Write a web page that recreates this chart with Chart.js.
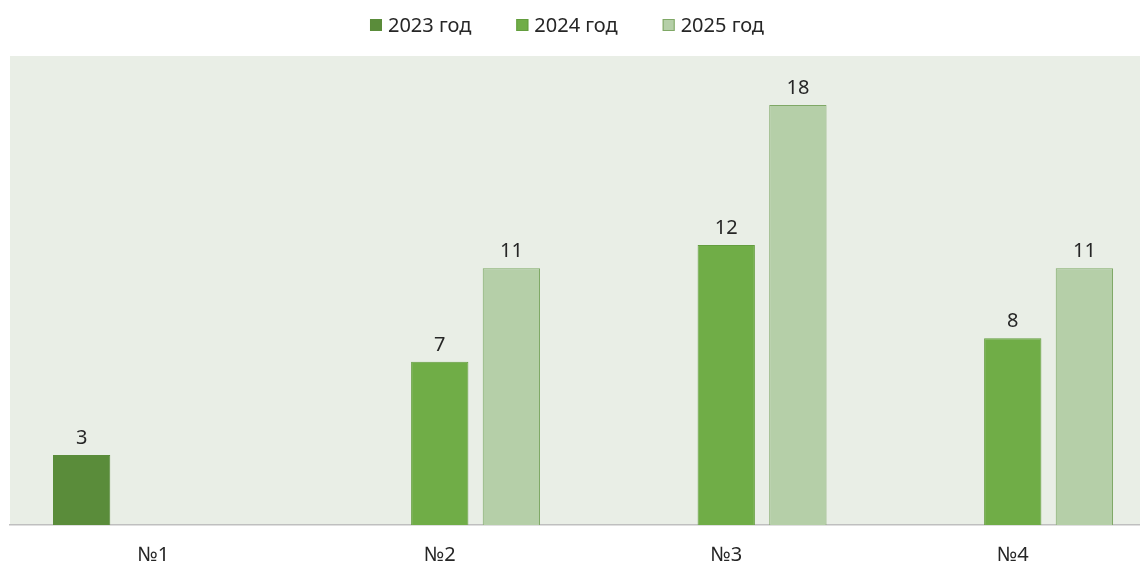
<!DOCTYPE html>
<html>
<head>
<meta charset="utf-8">
<script src="https://cdn.jsdelivr.net/npm/chart.js@4.4.1/dist/chart.umd.min.js"></script>
<style>
  html, body { margin: 0; padding: 0; background: #fff; overflow: hidden; }
  #wrap { position: absolute; left: 0; top: 0; width: 1156px; height: 563px; }
</style>
</head>
<body>
<div id="wrap"><canvas id="chart" width="1156" height="563"></canvas></div>
<script>
const categories = ['№1', '№2', '№3', '№4'];
const seriesNames = ['2023 год', '2024 год', '2025 год'];
const values2023 = [3, null, null, null];
const values2024 = [null, 7, 12, 8];
const values2025 = [null, 11, 18, 11];

const fillColors = ['#5A8C3A', '#70AD47', '#B5CFA8'];
const edgeColors = ['#5A8C3A', '#639D3E', '#7FA866'];
const fontFamily = '"Noto Sans", "Open Sans", sans-serif';
const textColor = '#262626';

// plot area background
const plotBackground = {
    id: 'plotBackground',
    beforeDraw(chart) {
        const { ctx, chartArea } = chart;
        ctx.save();
        ctx.fillStyle = '#E9EEE6';
        ctx.fillRect(chartArea.left, chartArea.top, chartArea.right - chartArea.left, chartArea.bottom - chartArea.top);
        ctx.restore();
    }
};

// value labels above each bar
const valueLabels = {
    id: 'valueLabels',
    afterDatasetsDraw(chart) {
        const ctx = chart.ctx;
        ctx.save();
        ctx.font = '20px ' + fontFamily;
        ctx.fillStyle = textColor;
        ctx.textAlign = 'center';
        ctx.textBaseline = 'alphabetic';
        chart.data.datasets.forEach((ds, i) => {
            chart.getDatasetMeta(i).data.forEach((bar, j) => {
                const v = ds.data[j];
                if (v === null || v === undefined) return;
                ctx.fillText(String(v), bar.x, bar.y - 11);
            });
        });
        ctx.restore();
    }
};

// legend drawn by hand so it can sit tight above the plot, slightly left of centre
const topLegend = {
    id: 'topLegend',
    afterDraw(chart) {
        const ctx = chart.ctx;
        const box = 12, textGap = 6, itemGap = 45;
        ctx.save();
        ctx.font = '20px ' + fontFamily;
        ctx.textBaseline = 'alphabetic';
        ctx.textAlign = 'left';
        const widths = chart.data.datasets.map(ds => box + textGap + ctx.measureText(ds.label).width);
        const total = widths.reduce((a, b) => a + b, 0) + itemGap * (widths.length - 1);
        let x = 567 - total / 2;
        chart.data.datasets.forEach((ds, i) => {
            ctx.fillStyle = ds.backgroundColor;
            ctx.fillRect(x, 19, box, box);
            ctx.strokeStyle = ds.borderColor;
            ctx.lineWidth = 1;
            ctx.strokeRect(x + 0.5, 19.5, box - 1, box - 1);
            ctx.fillStyle = textColor;
            ctx.fillText(ds.label, x + box + textGap, 31.5);
            x += widths[i] + itemGap;
        });
        ctx.restore();
    }
};

const datasets = [values2023, values2024, values2025].map((vals, i) => ({
    label: seriesNames[i],
    data: vals,
    backgroundColor: fillColors[i],
    borderColor: edgeColors[i],
    borderWidth: 1,
    categoryPercentage: 0.75,
    barPercentage: 0.8
}));

new Chart(document.getElementById('chart'), {
    type: 'bar',
    data: { labels: categories, datasets: datasets },
    plugins: [plotBackground, valueLabels, topLegend],
    options: {
        responsive: false,
        animation: false,
        layout: { padding: { left: 10, right: 0, top: 56, bottom: 0 } },
        plugins: {
            tooltip: { enabled: false },
            legend: { display: false }
        },
        scales: {
            x: {
                grid: { display: false },
                border: { color: '#BFBFBF', width: 1.5 },
                ticks: { color: textColor, padding: 10, font: { family: fontFamily, size: 20 } },
                afterFit(scale) { scale.height = 38; }
            },
            y: {
                display: false,
                min: 0,
                max: 20.1
            }
        }
    }
});
</script>
</body>
</html>
